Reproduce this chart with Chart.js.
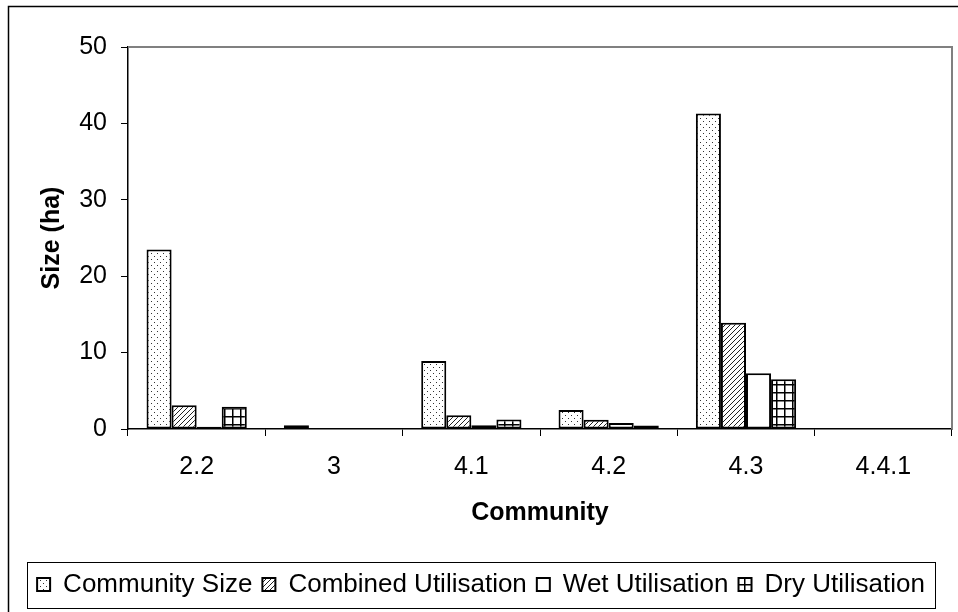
<!DOCTYPE html>
<html>
<head>
<meta charset="utf-8">
<script src="https://cdn.jsdelivr.net/npm/chart.js@4.4.1/dist/chart.umd.min.js"></script>
<style>
  body { margin: 0; background: #fff; }
  #wrap { width: 958px; height: 612px; }
</style>
</head>
<body>
<div id="wrap"><canvas id="chart" width="958" height="612"></canvas></div>
<script>
// categories and series
const communities = ['2.2', '3', '4.1', '4.2', '4.3', '4.4.1'];
const communitySize = [23.5, 0.5, 8.9, 2.5, 41.3, 0];
const combinedUtil = [3.1, 0, 1.8, 1.2, 13.9, 0];
const wetUtil = [0.3, 0, 0.5, 0.8, 7.3, 0];
const dryUtil = [2.9, 0, 1.25, 0.45, 6.5, 0];
const yTicks = [0, 10, 20, 30, 40, 50];

const FONT = "'Liberation Sans', Arial, sans-serif";
Chart.defaults.font.family = FONT;
Chart.defaults.font.size = 25;
Chart.defaults.color = '#000';

// fill patterns like the old Excel ones
function makePattern(size, draw) {
    const c = document.createElement('canvas');
    c.width = size; c.height = size;
    const g = c.getContext('2d');
    g.fillStyle = '#fff';
    g.fillRect(0, 0, size, size);
    draw(g, size);
    return g.createPattern(c, 'repeat');
}
const ctx = document.getElementById('chart').getContext('2d');

const dots = makePattern(6, (g) => {
    g.fillStyle = '#333';
    g.fillRect(1, 1, 1, 1);
    g.fillRect(4, 4, 1, 1);
});
const hatch = makePattern(5, (g, s) => {
    g.strokeStyle = '#222';
    g.lineWidth = 1;
    g.beginPath();
    g.moveTo(0, s); g.lineTo(s, 0);
    g.moveTo(-1, 1); g.lineTo(1, -1);
    g.moveTo(s - 1, s + 1); g.lineTo(s + 1, s - 1);
    g.stroke();
});
const grid = makePattern(8, (g, s) => {
    g.fillStyle = '#000';
    g.fillRect(0, 0, s, 1.5);
    g.fillRect(0, 0, 1.5, s);
});

// frame, plot-area border and legend box
const decor = {
    id: 'decor',
    beforeDatasetsDraw(chart) {
        const {ctx, chartArea: a} = chart;
        ctx.save();
        ctx.strokeStyle = '#808080';
        ctx.lineWidth = 2;
        ctx.beginPath();
        ctx.moveTo(a.left, a.top);
        ctx.lineTo(a.right, a.top);
        ctx.lineTo(a.right, a.bottom);
        ctx.stroke();
        ctx.restore();
    },
    afterDraw(chart) {
        const {ctx} = chart;
        ctx.save();
        ctx.strokeStyle = '#000';
        ctx.lineWidth = 1.5;
        ctx.strokeRect(8.5, 6.5, chart.width - 2, chart.height - 1);
        const lg = chart.legend;
        const hb = lg.legendHitBoxes;
        const x0 = Math.min(...hb.map(h => h.left)) - 10;
        const x1 = Math.max(...hb.map(h => h.left + h.width)) + 10;
        ctx.lineWidth = 1;
        ctx.strokeRect(Math.round(x0) + 0.5, Math.round(lg.top) + 0.5, Math.round(x1 - x0), Math.round(lg.bottom - lg.top));
        ctx.restore();
    }
};

const common = {borderColor: '#000', borderWidth: 2, borderSkipped: false};

new Chart(ctx, {
    type: 'bar',
    data: {
        labels: communities,
        datasets: [
            {label: 'Community Size', data: communitySize, backgroundColor: dots, ...common},
            {label: 'Combined Utilisation', data: combinedUtil, backgroundColor: hatch, ...common},
            {label: 'Wet Utilisation', data: wetUtil, backgroundColor: '#fff', ...common},
            {label: 'Dry Utilisation', data: dryUtil, backgroundColor: grid, ...common}
        ]
    },
    options: {
        responsive: false,
        animation: false,
        categoryPercentage: 0.73,
        barPercentage: 1,
        layout: {padding: {left: 10, right: 6, top: 47, bottom: 4.5}},
        plugins: {
            tooltip: {enabled: false},
            legend: {
                position: 'bottom',
                labels: {boxWidth: 13, boxHeight: 13, padding: 10, font: {size: 26}}
            }
        },
        scales: {
            x: {
                grid: {offset: true, drawOnChartArea: false, tickLength: 7, color: '#000', lineWidth: 1},
                border: {color: '#000', width: 1.5},
                ticks: {padding: 16, font: {size: 25}, maxRotation: 0},
                title: {display: true, text: 'Community', font: {size: 25, weight: 'bold'}, padding: {top: 0, bottom: 33.5}},
                afterFit(scale) { scale.height = 132.5; }
            },
            y: {
                min: 0,
                max: 50,
                afterBuildTicks(scale) { scale.ticks = yTicks.map(v => ({value: v})); },
                grid: {drawOnChartArea: false, tickLength: 7, color: '#000', lineWidth: 1},
                border: {color: '#000', width: 1.5},
                ticks: {padding: 14, font: {size: 25}},
                title: {display: true, text: 'Size (ha)', font: {size: 25, weight: 'bold'}, padding: {top: 27, bottom: 0}},
                afterFit(scale) { scale.width = 118; }
            }
        }
    },
    plugins: [decor]
});
</script>
</body>
</html>
